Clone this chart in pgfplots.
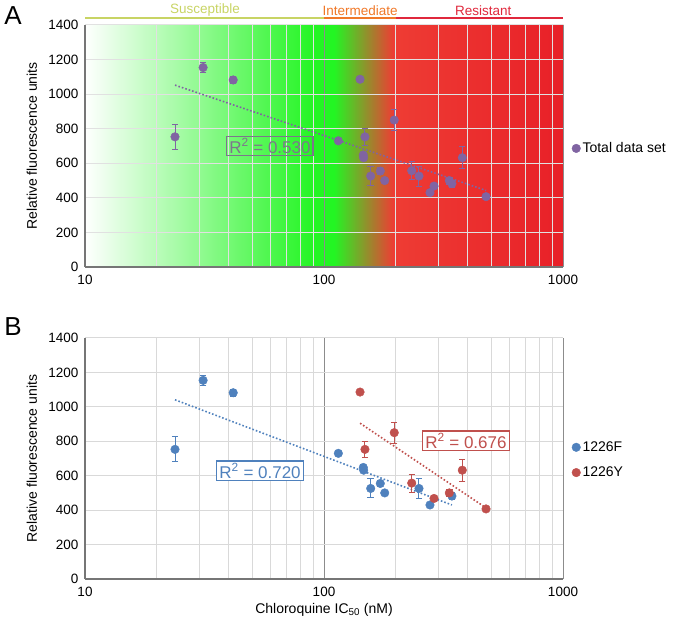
\documentclass[border=0pt]{standalone}
\usepackage{fontspec}
\setmainfont{Liberation Sans}
\usepackage{pgfplots}
\usepackage{pgfplotstable}
\pgfplotsset{compat=1.18}
\definecolor{cpurple}{RGB}{128,100,162}
\definecolor{cpurpletxt}{RGB}{125,118,140}
\definecolor{cblue}{RGB}{79,129,189}
\definecolor{cred}{RGB}{192,80,77}
\definecolor{gridc}{RGB}{217,217,217}
\definecolor{gridA}{RGB}{225,225,225}
\definecolor{majgrid}{RGB}{140,140,140}
\definecolor{axisc}{RGB}{118,118,118}
\definecolor{bgreen}{RGB}{35,245,35}
\definecolor{bred}{RGB}{238,60,52}
\definecolor{bred2}{RGB}{232,32,40}
\definecolor{csus}{RGB}{200,212,100}
\definecolor{cint}{RGB}{240,120,40}
\definecolor{cres}{RGB}{224,40,60}
% positions: fraction f of log axis -> 25+50f bp
\pgfdeclarehorizontalshading{bgshade}{100bp}{color(0bp)=(white); color(25bp)=(white); color(49bp)=(bgreen); color(51.04bp)=(bgreen); color(57.25bp)=(bred); color(75bp)=(bred2); color(100bp)=(bred2)}

\pgfplotstableread{
x y e
23.8 753 72
31.2 1154 28
41.7 1082 21
114.8 730 10
141.5 1086 15
146.0 648 17
146.5 632 10
148.4 753 48
156.8 526 55
172.0 555 20
179.5 500 10
196.8 850 60
232.8 557 52
249.7 526 58
277.6 430 10
288.6 468 15
334.4 500 20
343.0 482 20
379.0 632 65
476.4 407 10
}\totaldata
\pgfplotstableread{
x y e
23.8 753 72
31.2 1154 28
41.7 1082 21
114.8 730 10
146.0 648 17
146.5 632 10
156.8 526 55
172.0 555 20
179.5 500 10
249.7 526 58
277.6 430 10
343.0 482 20
}\fdata
\pgfplotstableread{
x y e
141.5 1086 15
148.4 753 48
196.8 850 60
232.8 557 52
288.6 468 15
334.4 500 20
379.0 632 65
476.4 407 10
}\ydata

\begin{document}
\begin{tikzpicture}
\path[use as bounding box] (0,0) rectangle (676pt,628pt);
\node[font=\fontsize{26}{30}\selectfont] at (13pt,612pt) {A};
\node[font=\fontsize{26}{30}\selectfont] at (13pt,301pt) {B};

\begin{axis}[
  scale only axis, width=478pt, height=242pt,
  at={(85pt,361pt)}, anchor=south west,
  axis background/.style={shade, shading=bgshade},
  xmode=log, xmin=10, xmax=1000, ymin=0, ymax=1400,
  ytick={0,200,...,1400},
  xtick={10,100,1000}, xticklabels={10,100,1000},
  minor xtick={20,30,40,50,60,70,80,90,200,300,400,500,600,700,800,900},
  xmajorgrids, xminorgrids, ymajorgrids,
  major x grid style={majgrid, line width=0.8pt},
  minor x grid style={gridA, line width=1pt},
  major y grid style={gridA, line width=1pt},
  axis x line=bottom, axis y line=left,
  axis line style={axisc, line width=1.3pt, -},
  x axis line style={-}, y axis line style={-},
  major tick length=0pt, minor tick length=0pt,
  tick style={draw=none},
  /pgf/number format/1000 sep={},
  /pgf/number format/assume math mode=true,
  ticklabel style={font=\fontsize{13.5}{16}\selectfont},
  xticklabel style={yshift=-5pt},
  yticklabel style={xshift=-3pt},
  ylabel={Relative fluorescence units},
  ylabel style={at={(axis description cs:-0.111,0.5)}, anchor=center, font=\fontsize{14}{17}\selectfont},
  legend style={draw=none, fill=none, font=\fontsize{14}{17}\selectfont, anchor=west, at={(axis description cs:1.012,0.49)}},
  legend cell align=left,
  clip=false]
 \addplot[cpurple, line width=1.6pt, dotted, forget plot] coordinates {(23.8,1052) (476.4,443)};
 \addplot[only marks, mark=*, mark size=4.3pt, color=cpurple, mark options={draw=cpurple, fill=cpurple},
   error bars/y dir=both, error bars/y explicit,
   error bars/error bar style={line width=1pt, cpurple},
   error bars/error mark options={rotate=90, mark size=3.2pt, line width=1pt, cpurple}]
   table[x=x, y=y, y error=e] {\totaldata};
 \addlegendentry{Total data set}
 \node[draw=cpurpletxt, line width=1.2pt, text=cpurpletxt, inner sep=2.5pt, font=\fontsize{17}{19}\selectfont] at (axis cs:59.4,700) {R\textsuperscript{2} = 0.530};
 \draw[csus, line width=1.5pt] (axis cs:10,1440) -- (axis cs:100,1440);
 \draw[cint, line width=1.5pt] (axis cs:100,1440) -- (axis cs:200,1440);
 \draw[cres, line width=1.5pt] (axis cs:200,1440) -- (axis cs:1000,1440);
 \node[csus, font=\fontsize{13.5}{16}\selectfont] at (axis cs:31.8,1485) {Susceptible};
 \node[cint, font=\fontsize{13.5}{16}\selectfont] at (axis cs:141.5,1485) {Intermediate};
 \node[cres, font=\fontsize{13.5}{16}\selectfont] at (axis cs:464,1485) {Resistant};
\end{axis}

\begin{axis}[
  scale only axis, width=478pt, height=241pt,
  at={(85pt,49pt)}, anchor=south west,
  xmode=log, xmin=10, xmax=1000, ymin=0, ymax=1400,
  ytick={0,200,...,1400},
  xtick={10,100,1000}, xticklabels={10,100,1000},
  minor xtick={20,30,40,50,60,70,80,90,200,300,400,500,600,700,800,900},
  xmajorgrids, xminorgrids, ymajorgrids,
  major x grid style={majgrid, line width=0.8pt},
  minor x grid style={gridc, line width=1pt},
  major y grid style={gridc, line width=1pt},
  axis x line=bottom, axis y line=left,
  axis line style={axisc, line width=1.3pt, -},
  x axis line style={-}, y axis line style={-},
  major tick length=0pt, minor tick length=0pt,
  tick style={draw=none},
  /pgf/number format/1000 sep={},
  /pgf/number format/assume math mode=true,
  ticklabel style={font=\fontsize{13.5}{16}\selectfont},
  xticklabel style={yshift=-5pt},
  yticklabel style={xshift=-3pt},
  ylabel={Relative fluorescence units},
  ylabel style={at={(axis description cs:-0.111,0.5)}, anchor=center, font=\fontsize{14}{17}\selectfont},
  xlabel={Chloroquine IC\textsubscript{50} (nM)},
  xlabel style={at={(axis description cs:0.5,-0.128)}, anchor=center, font=\fontsize{14}{17}\selectfont},
  legend style={draw=none, fill=none, font=\fontsize{14}{17}\selectfont, anchor=west, at={(axis description cs:1.012,0.494)}, row sep=10pt},
  legend cell align=left,
  clip=false]
 \addplot[cblue, line width=1.6pt, dotted, forget plot] coordinates {(23.8,1041) (343,430)};
 \addplot[cred, line width=1.6pt, dotted, forget plot] coordinates {(141.5,905) (476.4,413)};
 \addplot[only marks, mark=*, mark size=4.3pt, color=cblue, mark options={draw=cblue, fill=cblue},
   error bars/y dir=both, error bars/y explicit,
   error bars/error bar style={line width=1pt, cblue},
   error bars/error mark options={rotate=90, mark size=3.2pt, line width=1pt, cblue}]
   table[x=x, y=y, y error=e] {\fdata};
 \addlegendentry{1226F}
 \addplot[only marks, mark=*, mark size=4.3pt, color=cred, mark options={draw=cred, fill=cred},
   error bars/y dir=both, error bars/y explicit,
   error bars/error bar style={line width=1pt, cred},
   error bars/error mark options={rotate=90, mark size=3.2pt, line width=1pt, cred}]
   table[x=x, y=y, y error=e] {\ydata};
 \addlegendentry{1226Y}
 \node[draw=cblue, fill=white, line width=1.2pt, text=cblue, inner sep=2.5pt, font=\fontsize{17}{19}\selectfont] at (axis cs:54,628) {R\textsuperscript{2} = 0.720};
 \node[draw=cred, fill=white, line width=1.2pt, text=cred, inner sep=2.5pt, font=\fontsize{17}{19}\selectfont] at (axis cs:392.6,802) {R\textsuperscript{2} = 0.676};
\end{axis}
\end{tikzpicture}
\end{document}
